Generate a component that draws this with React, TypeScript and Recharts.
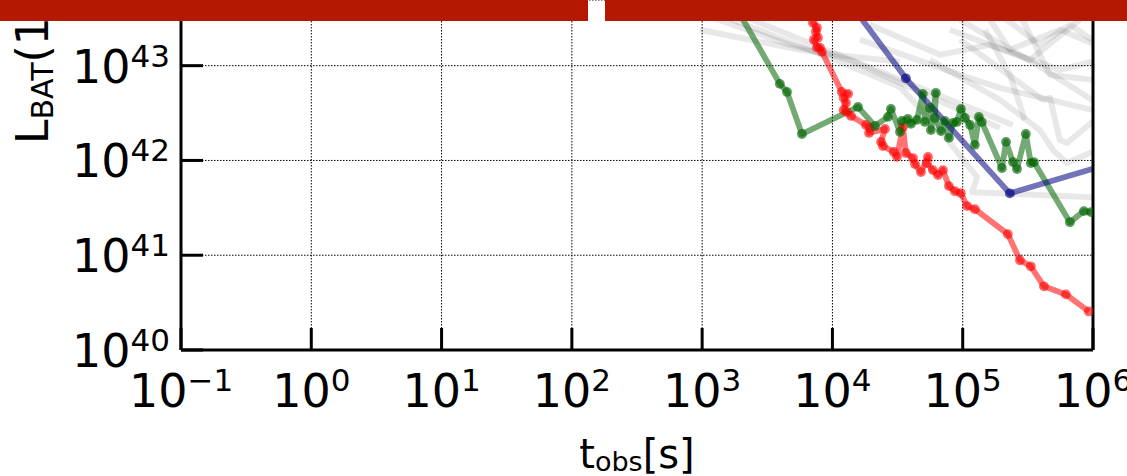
import React from 'react';
import { ComposedChart, Line, XAxis, YAxis, CartesianGrid, ReferenceLine } from 'recharts';

// Observed time since trigger [s]
const xTicks = [1e-1, 1e0, 1e1, 1e2, 1e3, 1e4, 1e5, 1e6];
const yTicks = [1e40, 1e41, 1e42, 1e43];
const yTop = 4.93e43;

// Highlighted light curves: BAT luminosity vs observed time
const redT = [6.84e3, 7.08e3, 7.6e3, 7.46e3, 7.74e3, 7.21e3, 7.6e3, 8.02e3, 8.3e3, 1.18e4, 1.32e4, 1.22e4, 1.27e4, 1.22e4, 1.29e4, 1.39e4, 1.81e4, 1.94e4, 1.91e4, 2.53e4, 2.36e4, 2.44e4, 2.96e4, 3.13e4, 3.48e4, 3.66e4, 4.15e4, 4.3e4, 4.78e4, 5.41e4, 5.31e4, 5.9e4, 6.46e4, 7.05e4, 7.84e4, 8.71e4, 9.68e4, 1.08e5, 1.24e5, 2.22e5, 2.75e5, 3.33e5, 4.2e5, 6.19e5, 9.29e5];
const redL = [7.16e43, 2.84e43, 2.51e43, 2.28e43, 1.97e43, 1.88e43, 1.55e43, 1.55e43, 1.4e43, 5.28e42, 5.04e42, 4.57e42, 4.05e42, 3.41e42, 3.25e42, 2.95e42, 2.37e42, 2.2e42, 1.95e42, 2.15e42, 1.57e42, 1.42e42, 1.23e42, 1.09e42, 2.25e42, 1.2e42, 1.06e42, 9.16e41, 7.54e41, 1.09e42, 9.4e41, 7.91e41, 7.01e41, 7.91e41, 5.36e41, 4.74e41, 4.52e41, 3.3e41, 3.06e41, 1.67e41, 8.85e40, 7.64e40, 4.7e40, 3.86e40, 2.55e40];

const greenT = [1.52e3, 3.95e3, 4.48e3, 5.83e3, 1.57e4, 2.12e4, 2.67e4, 2.81e4, 3.3e4, 3.41e4, 3.79e4, 4.0e4, 4.45e4, 4.94e4, 5.13e4, 5.6e4, 5.7e4, 6.22e4, 6.12e4, 6.81e4, 7.29e4, 7.84e4, 8.41e4, 9.02e4, 9.68e4, 1.04e5, 1.14e5, 1.24e5, 1.33e5, 1.4e5, 2.0e5, 2.15e5, 2.43e5, 2.61e5, 3.05e5, 3.33e5, 3.52e5, 6.65e5, 8.51e5, 9.64e5];
const greenL = [6.34e43, 6.43e42, 5.28e42, 1.9e42, 3.67e42, 2.31e42, 2.88e42, 3.5e42, 2.0e42, 2.61e42, 2.74e42, 2.43e42, 2.68e42, 5.04e42, 2.55e42, 3.58e42, 2.09e42, 5.16e42, 2.81e42, 2.04e42, 2.61e42, 1.73e42, 2.49e42, 2.55e42, 3.5e42, 2.81e42, 2.37e42, 1.46e42, 2.88e42, 2.55e42, 8.32e41, 1.57e42, 9.62e41, 8.11e41, 1.9e42, 9.38e41, 9.62e41, 2.23e41, 2.92e41, 2.85e41];

const blueT = [1.14e4, 3.66e4, 2.3e5, 1.99e6];
const blueL = [6.34e43, 7.35e42, 4.49e41, 1.08e42];

// Background sample of light curves, [t, L] pairs
const grayTracks: [number, number][][] = [
  [[8.05e2, 3.9e43], [4.72e3, 1.66e43], [1.36e4, 1.15e43], [9.51e4, 3.41e42], [1.93e5, 2.2e42]],
  [[1.37e3, 3.45e43], [1.14e4, 1.1e43], [3.3e4, 5.97e42], [6.68e4, 2.09e42], [1.29e5, 6.67e41], [1.18e5, 4.63e41], [9.82e5, 4.1e41]],
  [[1.95e3, 3.45e43], [2.32e4, 8.61e42], [2.43e5, 2.37e42]],
  [[9.51e4, 1.88e43], [4.13e5, 4.36e42], [4.67e5, 4.57e42], [5.57e5, 1.64e42], [6.31e5, 1.53e42], [8.67e5, 2.2e42], [1.04e6, 2.68e42]],
  [[5.6e4, 1.15e43], [1.93e5, 4.36e42], [3.91e5, 2.09e42], [4.92e5, 1.29e42], [6.31e5, 9.4e41], [9.82e5, 1.23e42]],
  [[9.51e4, 3.05e43], [3.91e5, 9.72e42], [1.04e6, 4.15e42]],
  [[1.62e5, 3.05e43], [2.3e5, 1.47e43], [5.57e5, 2.39e43], [1.04e6, 1.66e43]],
  [[1.93e5, 3.45e43], [3.91e5, 1.66e43], [6.65e5, 2.7e43], [9.82e5, 1.88e43]],
  [[7.98e4, 2.39e43], [3.28e5, 1.15e43], [7.93e5, 3.05e43]],
  [[2.75e5, 3.45e43], [4.67e5, 8.0e42], [9.82e5, 7.08e42]],
  [[1.94e4, 2.7e43], [6.68e4, 1.3e43], [1.62e5, 1.66e43], [5.57e5, 9.04e42], [9.82e5, 1.1e43]],
  [[1.63e4, 1.88e43], [9.51e4, 8.0e42], [1.93e5, 5.83e42], [9.82e5, 3.41e42]],
  [[9.62e2, 2.39e43], [5.62e3, 1.47e43], [1.21e4, 1.27e43], [3.3e4, 1.1e43]],
  [[1.48e5, 2.39e43], [2.3e5, 8.0e42], [3.0e5, 2.68e42]],
];

const FONT = '"DejaVu Sans", sans-serif';

const toRows = (ts: number[], ls: number[]) => ts.map((t, i) => ({ t, L: ls[i] }));
const redRows = toRows(redT, redL);
const greenRows = toRows(greenT, greenL);
const blueRows = toRows(blueT, blueL);
const grayRows = grayTracks.map((tr) => tr.map(([t, L]) => ({ t, L })));

const expText = (v: number) => {
  const e = Math.round(Math.log10(v));
  return e < 0 ? '\u2212' + Math.abs(e) : String(e);
};

const XTick = (props: any) => {
  const { x, y, payload } = props;
  return (
    <g>
      <line x1={x} x2={x} y1={y} y2={y - 22} stroke="#000" strokeWidth={3} />
      <text x={x} y={y + 57} textAnchor="middle" fontFamily={FONT} fontSize={46} fill="#000">
        10
        <tspan dy={-16} fontSize={31}>{expText(payload.value)}</tspan>
      </text>
    </g>
  );
};

const YTick = (props: any) => {
  const { x, y, payload } = props;
  return (
    <g>
      <line x1={x} x2={x + 22} y1={y} y2={y} stroke="#000" strokeWidth={3} />
      <text x={x - 11} y={y + 17} textAnchor="end" fontFamily={FONT} fontSize={46} fill="#000">
        10
        <tspan dy={-16} fontSize={31}>{expText(payload.value)}</tspan>
      </text>
    </g>
  );
};

const makeDot = (color: string, opacity: number) => (p: any) => (
  <circle key={`d-${p.index}`} cx={p.cx} cy={p.cy} r={4.9} fill={color} fillOpacity={opacity} stroke="none" />
);

export default function App() {
  return (
    <div style={{ position: 'fixed', left: 0, top: 0, width: 1127, height: 476, background: '#fff', overflow: 'hidden' }}>
      <ComposedChart width={1127} height={476} margin={{ top: 0, right: 34, bottom: 0, left: 0 }}>
        <CartesianGrid stroke="#000" strokeWidth={1} strokeDasharray="1.5 1.5" />
        <XAxis
          dataKey="t"
          type="number"
          scale="log"
          domain={[1e-1, 1e6]}
          ticks={xTicks}
          interval={0}
          allowDataOverflow
          height={126}
          tickSize={0}
          tickMargin={0}
          tickLine={false}
          tick={<XTick />}
          axisLine={{ stroke: '#000', strokeWidth: 3 }}
        />
        <YAxis
          dataKey="L"
          type="number"
          scale="log"
          domain={[1e40, yTop]}
          ticks={yTicks}
          interval={0}
          allowDataOverflow
          width={181}
          tickSize={0}
          tickMargin={0}
          tickLine={false}
          tick={<YTick />}
          axisLine={{ stroke: '#000', strokeWidth: 3 }}
        />
        {grayRows.map((rows, i) => (
          <Line
            key={`g${i}`}
            data={rows}
            dataKey="L"
            type="linear"
            stroke="#000"
            strokeOpacity={0.09}
            strokeWidth={6}
            strokeLinejoin="round"
            dot={false}
            activeDot={false}
            isAnimationActive={false}
          />
        ))}
        <Line data={redRows} dataKey="L" type="linear" stroke="#ff0000" strokeOpacity={0.55} strokeWidth={5.8} strokeLinejoin="round" dot={makeDot('#ff0000', 0.6)} activeDot={false} isAnimationActive={false} />
        <Line data={greenRows} dataKey="L" type="linear" stroke="#006400" strokeOpacity={0.55} strokeWidth={5.8} strokeLinejoin="round" dot={makeDot('#006400', 0.65)} activeDot={false} isAnimationActive={false} />
        <Line data={blueRows} dataKey="L" type="linear" stroke="#000080" strokeOpacity={0.55} strokeWidth={5.8} strokeLinejoin="round" dot={makeDot('#000080', 0.65)} activeDot={false} isAnimationActive={false} />
        <ReferenceLine x={1e6} stroke="#000" strokeWidth={3} />
      </ComposedChart>
      <svg width={1127} height={476} style={{ position: 'absolute', left: 0, top: 0, pointerEvents: 'none' }}>
        <text x={637} y={468} textAnchor="middle" fontFamily={FONT} fontSize={40} fill="#000">
          t<tspan dy={3} fontSize={27}>obs</tspan><tspan dy={-3}>[s]</tspan>
        </text>
        <text transform="translate(48,144) rotate(-90)" fontFamily={FONT} fontSize={44} fill="#000">
          L<tspan dy={5} fontSize={30}>BAT</tspan><tspan dy={-5}>(15–150 keV) [erg s⁻¹]</tspan>
        </text>
      </svg>
      <div style={{ position: 'absolute', left: 0, top: 0, width: 588, height: 21, background: '#b41800' }} />
      <div style={{ position: 'absolute', left: 605, top: 0, width: 522, height: 21, background: '#b41800' }} />
    </div>
  );
}
